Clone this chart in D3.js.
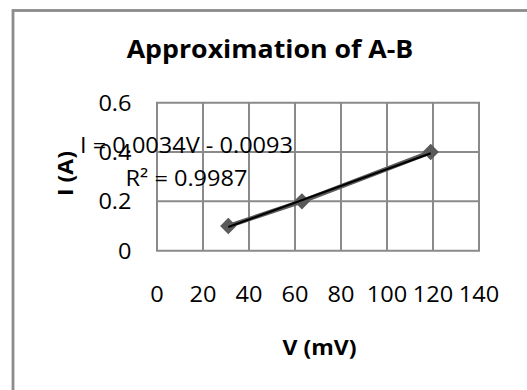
<!DOCTYPE html>
<html><head><meta charset="utf-8">
<script src="https://cdn.jsdelivr.net/npm/d3@7"></script>
<style>html,body{margin:0;padding:0;background:#fff;overflow:hidden}</style>
</head><body>
<script>
const voltage = [31, 63, 119];
const current = [0.1, 0.2, 0.4];
const xTicks = [0, 20, 40, 60, 80, 100, 120, 140];
const yTicks = [0, 0.2, 0.4, 0.6];
const title = "Approximation of A-B";
const xLabel = "V (mV)";
const yLabel = "I (A)";
const eqText = "I = 0.0034V - 0.0093";
const r2Text = "R² = 0.9987";
const slope = 0.0034, intercept = -0.0093;

const W = 527, H = 390;
const svg = d3.select("body").append("svg").attr("width", W).attr("height", H);
const FONT = "'Open Sans', 'Liberation Sans', sans-serif";
const K = 1.07;

// frame
svg.append("rect").attr("x", 13).attr("y", 10.5).attr("width", 600).attr("height", 500)
  .attr("fill", "#fff").attr("stroke", "#8c8c8c").attr("stroke-width", 2.8);

const x = d3.scaleLinear().domain([0, 140]).range([157, 479]);
const y = d3.scaleLinear().domain([0, 0.6]).range([250.7, 102.7]);

function txt(g, s, px, py, size, weight, anchor, rot) {
  return g.append("g").attr("transform", `translate(${px},${py})${rot ? ` rotate(${rot})` : ""} scale(${K},1)`)
    .append("text").attr("x", 0).attr("y", 0).attr("text-anchor", anchor)
    .attr("font-family", FONT).attr("font-size", size).attr("font-weight", weight)
    .attr("fill", "#000").text(s);
}

// grid
const grid = svg.append("g");
grid.selectAll("line.v").data(xTicks).join("line")
  .attr("x1", d => x(d)).attr("x2", d => x(d)).attr("y1", y(0)).attr("y2", y(0.6))
  .attr("stroke", "#8a8a8a").attr("stroke-width", 2);
grid.selectAll("line.h").data(yTicks).join("line")
  .attr("y1", d => y(d)).attr("y2", d => y(d)).attr("x1", x(0) - 1).attr("x2", x(140) + 1)
  .attr("stroke", "#8a8a8a").attr("stroke-width", 2);

// tick labels
xTicks.forEach(d => txt(svg, String(d), x(d), 301.7, 22, 400, "middle"));
yTicks.forEach(d => txt(svg, d === 0 ? "0" : d.toFixed(1), 131.5, y(d) + 8, 22, 400, "end"));

// series line
const pts = voltage.map((v, i) => [v, current[i]]);
svg.append("path").datum(pts)
  .attr("d", d3.line().x(d => x(d[0])).y(d => y(d[1])))
  .attr("fill", "none").attr("stroke", "#5a5a5a").attr("stroke-width", 4.5);

// markers
svg.selectAll("path.m").data(pts).join("path")
  .attr("d", d3.symbol().type(d3.symbolDiamond2).size(170))
  .attr("transform", d => `translate(${x(d[0])},${y(d[1])})`)
  .attr("fill", "#5a5a5a");

// trendline
const x0 = d3.min(voltage), x1 = d3.max(voltage);
svg.append("line")
  .attr("x1", x(x0)).attr("y1", y(slope * x0 + intercept))
  .attr("x2", x(x1)).attr("y2", y(slope * x1 + intercept))
  .attr("stroke", "#000").attr("stroke-width", 2);

// equation labels
txt(svg, eqText, 186.5, 152.7, 22, 400, "middle");
txt(svg, r2Text, 186.5, 186, 22, 400, "middle");

// titles
txt(svg, title, 270, 58.3, 25, 700, "middle");
txt(svg, xLabel, 319.5, 355, 21.5, 700, "middle");
txt(svg, yLabel, 73, 173.5, 21.5, 700, "middle", -90);
</script>
</body></html>
